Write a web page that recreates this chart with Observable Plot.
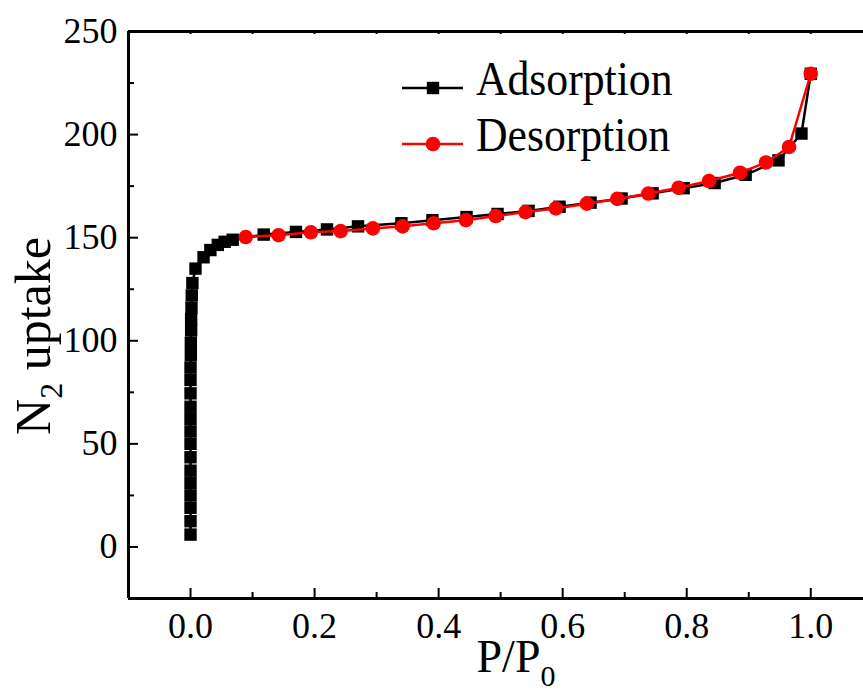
<!DOCTYPE html>
<html>
<head>
<meta charset="utf-8">
<script src="https://cdn.jsdelivr.net/npm/d3@7"></script>
<script src="https://cdn.jsdelivr.net/npm/@observablehq/plot@0.6"></script>
<style>
  html, body { margin: 0; padding: 0; background: #fff; }
  #chart svg { display: block; }
</style>
</head>
<body>
<div id="chart"></div>
<script>
// N2 isotherm: relative pressure P/P0 and uptake
const adsP = [0.000, 0.000, 0.000, 0.000, 0.000, 0.000, 0.000, 0.000, 0.000, 0.000,
              0.000, 0.000, 0.000, 0.000, 0.0005, 0.0005, 0.001, 0.001, 0.0015, 0.002,
              0.003, 0.008, 0.021, 0.032, 0.044, 0.055, 0.068, 0.118, 0.170, 0.220,
              0.270, 0.340, 0.390, 0.445, 0.495, 0.545, 0.595, 0.645, 0.695, 0.745,
              0.795, 0.845, 0.895, 0.948, 0.985, 1.000];
const adsN2 = [6, 12.5, 19, 25, 31, 37, 43.5, 50, 56, 62,
               68, 74.5, 81, 87, 93, 99, 105, 110.5, 116, 122,
               128, 135, 140.5, 144, 146.5, 148, 149, 151.5, 152.8, 154,
               155.5, 157, 158.5, 160, 161.5, 163, 165, 167, 169, 171.5,
               174, 176.5, 180.5, 187.5, 200.5, 229.5];
const desP = [1.000, 0.965, 0.928, 0.886, 0.836, 0.787, 0.738, 0.688, 0.639, 0.589,
              0.540, 0.492, 0.444, 0.392, 0.342, 0.294, 0.242, 0.194, 0.142, 0.089];
const desN2 = [229.5, 194, 186.5, 181.5, 177.5, 174.2, 171.4, 168.8, 166.5, 164.2,
               162.4, 160.5, 158.5, 157, 155.5, 154.5, 153.2, 152.6, 151.2, 150.3];

const seriesNames = ["Adsorption", "Desorption"];
const seriesColors = ["#000000", "#ff0000"];

const xTicks = [0, 0.2, 0.4, 0.6, 0.8, 1.0];
const xMinor = [0.1, 0.3, 0.5, 0.7, 0.9];
const yTicks = [0, 50, 100, 150, 200, 250];
const yMinor = [25, 75, 125, 175, 225];

const ads = adsP.map((p, i) => ({p, v: adsN2[i]}));
const des = desP.map((p, i) => ({p, v: desN2[i]}));

const W = 863, H = 692;
const mL = 128, mT = 31, mB = 94, mR = 0;
const innerW = W - mL - mR, innerH = H - mT - mB;
const serif = "'Liberation Serif', 'Times New Roman', serif";

const chart = Plot.plot({
  width: W,
  height: H,
  marginLeft: mL,
  marginTop: mT,
  marginBottom: mB,
  marginRight: mR,
  x: {domain: [-0.1, 1.085]},
  y: {domain: [-25, 250]},
  style: {fontFamily: serif, background: "white", color: "black"},
  marks: [
    Plot.axisX(xTicks, {tickSize: 0, tickPadding: 14, tickFormat: d3.format(".1f"), fontSize: 36, label: null}),
    Plot.axisY(yTicks, {tickSize: 0, tickPadding: 11, fontSize: 36, label: null}),
    // inward ticks on the bottom and left, small mirrored ticks on top
    Plot.ruleX(xTicks, {x: d => d, insetTop: innerH - 10, strokeWidth: 2}),
    Plot.ruleX(xMinor, {x: d => d, insetTop: innerH - 6, strokeWidth: 2}),
    Plot.ruleX([...xTicks, ...xMinor], {x: d => d, insetBottom: innerH - 3, strokeWidth: 2}),
    Plot.ruleY(yTicks, {y: d => d, insetRight: innerW - 10, strokeWidth: 2}),
    Plot.ruleY(yMinor, {y: d => d, insetRight: innerW - 6, strokeWidth: 2}),
    // frame: top, bottom, left
    Plot.ruleY([-25, 250], {strokeWidth: 3}),
    Plot.ruleX([-0.1], {strokeWidth: 3}),
    // adsorption branch
    Plot.line(ads, {x: "p", y: "v", stroke: seriesColors[0], strokeWidth: 2.5}),
    Plot.dot(ads, {x: "p", y: "v", symbol: "square", r: 7, fill: seriesColors[0], stroke: "none"}),
    // desorption branch
    Plot.line(des, {x: "p", y: "v", stroke: seriesColors[1], strokeWidth: 2.5}),
    Plot.dot(des, {x: "p", y: "v", symbol: "circle", r: 7.3, fill: seriesColors[1], stroke: "none"})
  ]
});

document.getElementById("chart").appendChild(chart);

const svg = d3.select(chart);

// legend: line + marker + label for each branch
const legendRows = [
  {name: seriesNames[0], color: seriesColors[0], symbol: d3.symbolSquare, size: 12.4 * 12.4, y: 88},
  {name: seriesNames[1], color: seriesColors[1], symbol: d3.symbolCircle, size: Math.PI * 7.3 * 7.3, y: 144}
];
const lg = svg.append("g").attr("class", "legend").attr("text-anchor", "start");
for (const row of legendRows) {
  lg.append("line")
    .attr("x1", 402).attr("x2", 463).attr("y1", row.y).attr("y2", row.y)
    .attr("stroke", row.color).attr("stroke-width", 2.5);
  lg.append("path")
    .attr("d", d3.symbol(row.symbol, row.size)())
    .attr("transform", `translate(433,${row.y})`)
    .attr("fill", row.color);
  lg.append("text")
    .attr("transform", `translate(476,${row.y + 7}) scale(0.91,1)`)
    .attr("text-anchor", "start")
    .attr("font-family", serif)
    .attr("font-size", 48)
    .attr("fill", "#000")
    .text(row.name);
}

// axis titles with subscripts
const yTitle = svg.append("text")
  .attr("transform", "translate(50,336) rotate(-90)")
  .attr("text-anchor", "middle")
  .attr("font-family", serif)
  .attr("font-size", 50)
  .attr("fill", "#000");
yTitle.append("tspan").text("N");
yTitle.append("tspan").attr("font-size", 32).attr("dy", 12).text("2");
yTitle.append("tspan").attr("dy", -12).text(" uptake");

const xTitle = svg.append("text")
  .attr("transform", "translate(516,672)")
  .attr("text-anchor", "middle")
  .attr("font-family", serif)
  .attr("font-size", 46)
  .attr("fill", "#000");
xTitle.append("tspan").text("P/P");
xTitle.append("tspan").attr("font-size", 30).attr("dy", 14).text("0");
</script>
</body>
</html>
